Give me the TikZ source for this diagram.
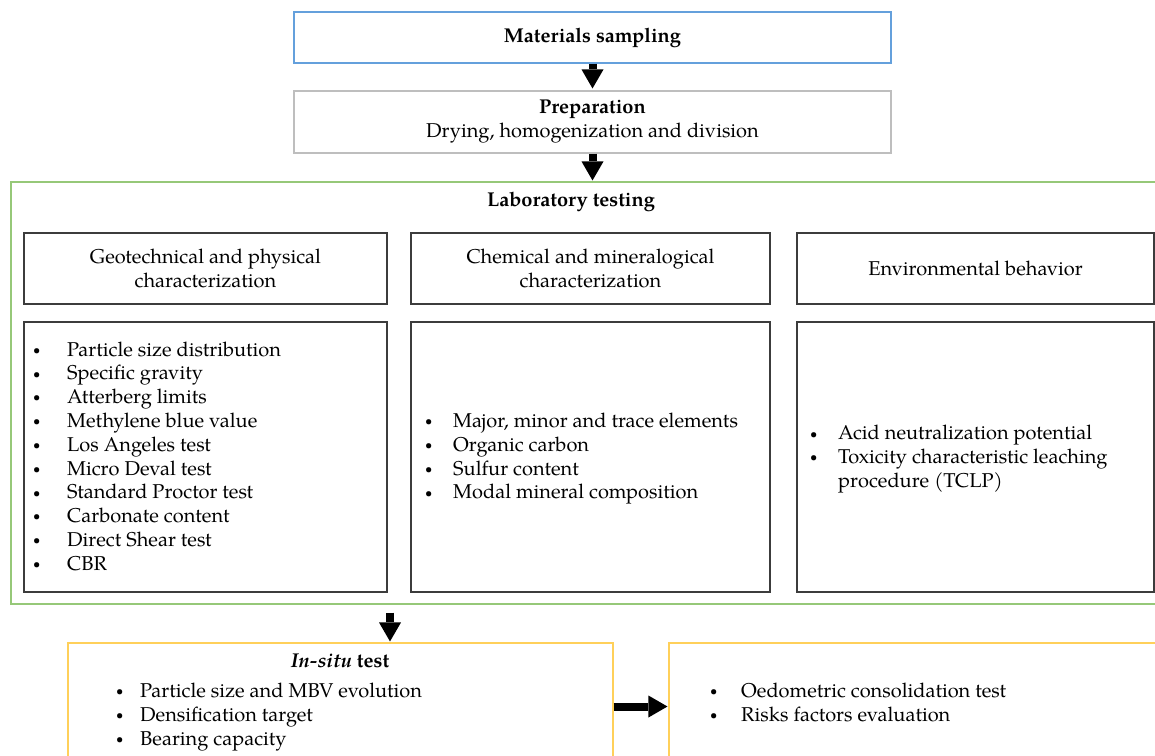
\documentclass[tikz,border=0pt]{standalone}
\usepackage{fontspec}
\setmainfont{texgyrepagella}[Extension=.otf,UprightFont=*-regular,BoldFont=*-bold,ItalicFont=*-italic,BoldItalicFont=*-bolditalic]
\usetikzlibrary{arrows.meta}
\definecolor{msblue}{RGB}{100,160,220}
\definecolor{prepgray}{RGB}{190,190,190}
\definecolor{labgreen}{RGB}{150,200,120}
\definecolor{boxdark}{RGB}{60,60,60}
\definecolor{insituyellow}{RGB}{255,208,90}
\newcommand\bul[1]{\makebox[#1][l]{\hspace{2pt}\raisebox{1.8pt}{\fontsize{13}{13}\selectfont\textbullet}}}
\tikzset{
  basebox/.style={rectangle, inner sep=0pt, align=center, font=\fontsize{20}{24}\selectfont},
  msbox/.style={basebox, draw=msblue, line width=1.3pt, minimum width=597pt, minimum height=51pt},
  prepbox/.style={basebox, draw=prepgray, line width=1.1pt, minimum width=597pt, minimum height=62pt},
  labbox/.style={basebox, draw=labgreen, line width=1.1pt, minimum width=1180pt, minimum height=422pt},
  headbox/.style={basebox, draw=boxdark, line width=1.1pt, minimum height=71pt},
  listbox/.style={basebox, draw=boxdark, line width=1.1pt, minimum height=270pt},
  yelbox/.style={basebox, draw=insituyellow, line width=1.1pt, minimum height=127pt},
  listtext/.style={anchor=west, inner sep=0pt, align=left, font=\fontsize{20}{23.8}\selectfont},
  titletext/.style={inner sep=0pt, font=\fontsize{20}{24}\selectfont\bfseries},
  bigarrow/.style={line width=8pt, black, -{Triangle[width=22pt,length=19pt,line width=0pt]}}
}
\begin{document}
\begin{tikzpicture}[x=1pt,y=-1pt]
\useasboundingbox (0,0) rectangle (1155,755);
\clip (0,0) rectangle (1155,755);
% top boxes
\node[msbox] (ms) at (592.5,37.5) {\raisebox{-1.5pt}{\bfseries Materials sampling}};
\node[prepbox] (prep) at (592.5,122) {\textbf{Preparation}\\Drying, homogenization and division};
% laboratory
\node[labbox] (lab) at (601,393) {};
\node[titletext] (labt) at (571,202) {Laboratory testing};
\node[headbox, minimum width=363pt] (geoH) at (205.5,268.5) {Geotechnical and physical\\characterization};
\node[headbox, minimum width=359pt] (chemH) at (590.5,268.5) {Chemical and mineralogical\\characterization};
\node[headbox, minimum width=357pt] (envH) at (975.5,268.5) {Environmental behavior};
\node[listbox, minimum width=363pt] (geoB) at (205.5,457) {};
\node[listbox, minimum width=359pt] (chemB) at (590.5,457) {};
\node[listbox, minimum width=357pt] (envB) at (975.5,457) {};
\node[listtext] (geoL) at (31,458.5) {\begin{tabular}{@{}l@{}l@{}}
\bul{36pt} & Particle size distribution\\
\bul{36pt} & Specific gravity\\
\bul{36pt} & Atterberg limits\\
\bul{36pt} & Methylene blue value\\
\bul{36pt} & Los Angeles test\\
\bul{36pt} & Micro Deval test\\
\bul{36pt} & Standard Proctor test\\
\bul{36pt} & Carbonate content\\
\bul{36pt} & Direct Shear test\\
\bul{36pt} & CBR
\end{tabular}};
\node[listtext] (chemL) at (423,458.5) {\begin{tabular}{@{}l@{}l@{}}
\bul{30pt} & Major, minor and trace elements\\
\bul{30pt} & Organic carbon\\
\bul{30pt} & Sulfur content\\
\bul{30pt} & Modal mineral composition
\end{tabular}};
\node[listtext] (envL) at (808,459) {\begin{tabular}{@{}l@{}l@{}}
\bul{30pt} & Acid neutralization potential\\
\bul{30pt} & Toxicity characteristic leaching\\
 & procedure (TCLP)
\end{tabular}};
% bottom boxes
\node[yelbox, minimum width=545pt] (insitu) at (340.5,706.5) {};
\node[titletext] (insituT) at (340,661) {\textit{In-situ} test};
\node[listtext] (insituL) at (114,716.5) {\begin{tabular}{@{}l@{}l@{}}
\bul{26pt} & Particle size and MBV evolution\\
\bul{26pt} & Densification target\\
\bul{26pt} & Bearing capacity
\end{tabular}};
\node[yelbox, minimum width=520pt] (risk) at (929,706.5) {};
\node[listtext] (riskL) at (708,704.5) {\begin{tabular}{@{}l@{}l@{}}
\bul{33pt} & Oedometric consolidation test\\
\bul{33pt} & Risks factors evaluation
\end{tabular}};
% arrows
\coordinate (ax) at (390,0);
\draw[bigarrow, shorten >=2pt] (ms.south) -- (prep.north);
\draw[bigarrow, shorten >=1pt] (prep.south) -- (prep.south |- lab.north);
\draw[bigarrow, shorten <=8pt, shorten >=1pt] (ax |- lab.south) -- (ax |- insitu.north);
\draw[bigarrow, shorten >=1pt] (insitu.east) -- (risk.west);
\end{tikzpicture}
\end{document}
